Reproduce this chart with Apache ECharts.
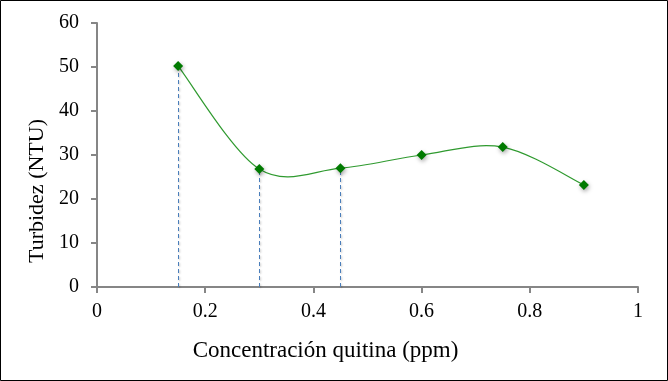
<!DOCTYPE html>
<html><head><meta charset="utf-8">
<script src="https://cdn.jsdelivr.net/npm/echarts@6/dist/echarts.min.js"></script>
<style>html,body{margin:0;padding:0;background:#fff}#c{width:668px;height:381px}</style>
</head><body><div id="c"></div>
<script>
var xValues = [0.15, 0.3, 0.45, 0.6, 0.75, 0.9];
var turbidez = [50.2, 26.8, 27.0, 30.0, 31.8, 23.2];
var dropX = [0.15, 0.3, 0.45];
var xTicks = [0, 0.2, 0.4, 0.6, 0.8, 1];
var yTicks = [0, 10, 20, 30, 40, 50, 60];

var points = xValues.map(function(x, i){ return [x, turbidez[i]]; });
var drops = dropX.map(function(x){
  var v = turbidez[xValues.indexOf(x)];
  return [{coord:[x, 0]}, {coord:[x, v]}];
});
var font = 'Liberation Serif';
var axisGray = '#868686';

// Excel-style smoothed curve: cubic Bezier segments through the data points,
// with control points derived from neighbouring points (Catmull-Rom), all mapped via api.coord.
function renderCurve(params, api) {
  if (params.dataIndex !== 0) return;
  var p = points.map(function(d){ return api.coord(d); });
  var n = p.length;
  var path = 'M' + p[0][0] + ' ' + p[0][1];
  for (var i = 0; i < n - 1; i++) {
    var p0 = p[Math.max(i - 1, 0)], p1 = p[i], p2 = p[i + 1], p3 = p[Math.min(i + 2, n - 1)];
    var c1x = p1[0] + (p2[0] - p0[0]) / 6, c1y = p1[1] + (p2[1] - p0[1]) / 6;
    var c2x = p2[0] - (p3[0] - p1[0]) / 6, c2y = p2[1] - (p3[1] - p1[1]) / 6;
    path += ' C' + c1x + ' ' + c1y + ' ' + c2x + ' ' + c2y + ' ' + p2[0] + ' ' + p2[1];
  }
  return {
    type: 'path',
    shape: {pathData: path},
    style: {fill: 'none', stroke: '#2f9a2f', lineWidth: 1.2}
  };
}

var chart = echarts.init(document.getElementById('c'));
chart.setOption({
  animation: false,
  backgroundColor: '#fff',
  grid: {left: 97, right: 30, top: 23, bottom: 94},
  graphic: [{type:'rect', shape:{x:0.5, y:0.5, width:667, height:380}, style:{fill:'none', stroke:'#000', lineWidth:1}, z:100}],
  xAxis: {
    type: 'value', min: 0, max: 1, interval: 0.2,
    name: 'Concentración quitina (ppm)', nameLocation: 'middle', nameGap: 52,
    nameTextStyle: {fontFamily: font, fontSize: 23, color: '#000', padding: [0, 84, 0, 0]},
    axisLine: {show: true, lineStyle: {color: axisGray, width: 2}},
    axisTick: {show: true, length: 6, inside: false, lineStyle: {color: axisGray, width: 2}},
    axisLabel: {fontFamily: font, fontSize: 20, color: '#000', margin: 15,
      formatter: function(v){ return String(+v.toFixed(1)); }},
    splitLine: {show: false}
  },
  yAxis: {
    type: 'value', min: 0, max: 60, interval: 10,
    name: 'Turbidez (NTU)', nameLocation: 'middle', nameGap: 44, nameRotate: 90,
    nameTextStyle: {fontFamily: font, fontSize: 22, color: '#000', padding: [0, 72, 0, 0]},
    axisLine: {show: true, lineStyle: {color: axisGray, width: 2}},
    axisTick: {show: true, length: 6, inside: false, lineStyle: {color: axisGray, width: 2}},
    axisLabel: {fontFamily: font, fontSize: 20, color: '#000', margin: 18},
    splitLine: {show: false}
  },
  series: [{
    type: 'custom', data: [[0]], renderItem: renderCurve, silent: true, z: 3
  }, {
    type: 'scatter', data: points,
    symbol: 'diamond', symbolSize: 10,
    itemStyle: {color: '#007a00', opacity: 1, shadowColor: 'rgba(0,0,0,0.35)', shadowBlur: 4, shadowOffsetX: 1, shadowOffsetY: 2},
    z: 5,
    markLine: {
      silent: true, symbol: ['none','none'], label: {show: false},
      lineStyle: {color: '#4a7ebb', type: [4, 3], width: 1, shadowColor: 'rgba(0,0,0,0.25)', shadowBlur: 2, shadowOffsetX: 1, shadowOffsetY: 1},
      data: drops
    }
  }]
});
</script></body></html>
